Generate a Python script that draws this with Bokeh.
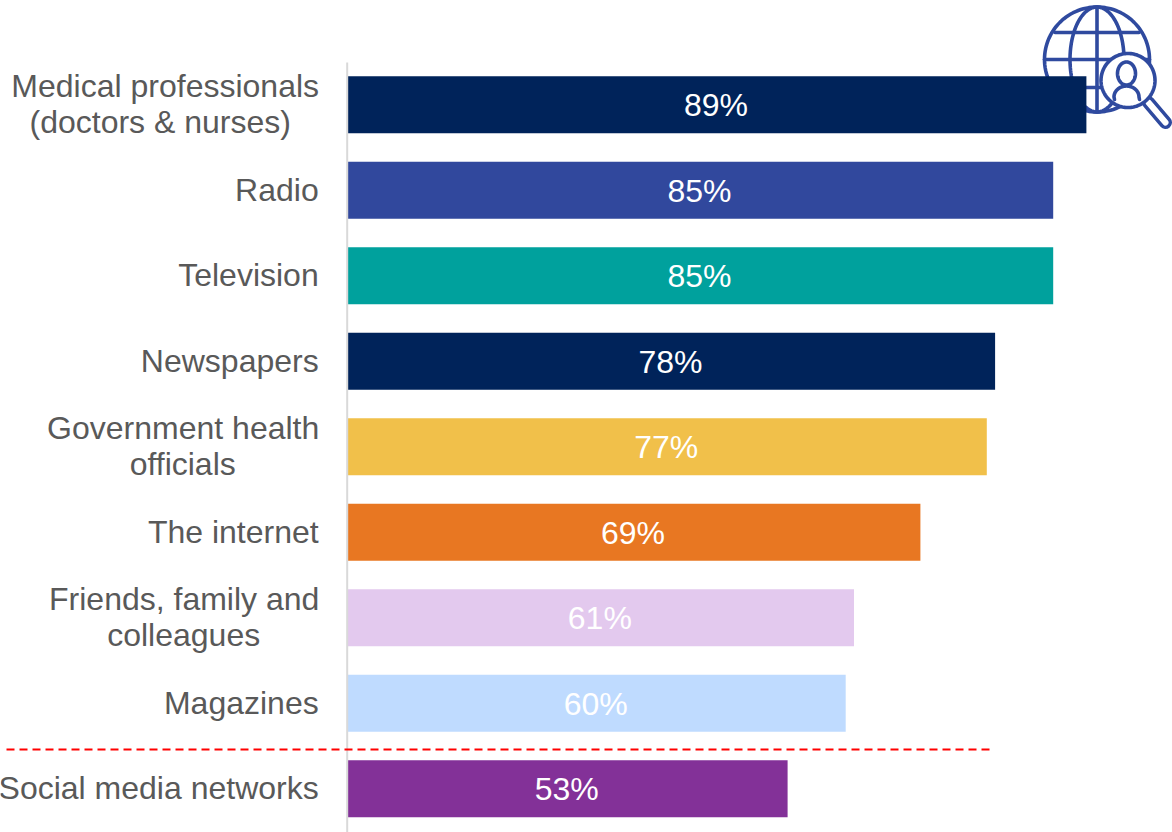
import numpy as np
from bokeh.core.properties import value
from bokeh.embed import file_html
from bokeh.models import ColumnDataSource, Range1d
from bokeh.plotting import figure
from bokeh.resources import INLINE

categories = [
    "Medical professionals", "Radio", "Television", "Newspapers",
    "Government health", "The internet", "Friends, family and",
    "Magazines", "Social media networks",
]
second_lines = {0: "(doctors & nurses)", 4: "officials", 6: "colleagues"}
shares = [89, 85, 85, 78, 77, 69, 61, 60, 53]
bar_colors = ["#00235A", "#31489D", "#00A19D", "#00235A", "#F1C04A",
              "#E87722", "#E3C9EE", "#BFDBFF", "#833198"]

W, H = 1172, 832
ZERO_PX, PX_PER_UNIT = 347.2, 8.3
ROW0_PX, ROW_STEP = 104.2, 85.5
ICON = "#2F4A9F"
FONT = value("Liberation Sans")


def dx(px):
    return (np.asarray(px, dtype=float) - ZERO_PX) / PX_PER_UNIT


def dy(px):
    return (np.asarray(px, dtype=float) - ROW0_PX) / ROW_STEP


p = figure(width=W, height=H, output_backend="svg", toolbar_location=None,
           x_range=Range1d(dx(0), dx(W)), y_range=Range1d(dy(H), dy(0)),
           min_border=0, outline_line_color=None, background_fill_color="white")
p.axis.visible = False
p.grid.visible = False


def stroke(xs, ys, color=ICON, width=3.6):
    p.line(dx(xs), dy(ys), line_color=color, line_width=width,
           line_cap="round", line_join="round")


# Globe with magnifier, sits behind the first bar
GX, GY, GR = 1096.5, 59.0, 52.5
t = np.linspace(0, 2 * np.pi, 121)
stroke(GX + GR * np.cos(t), GY + GR * np.sin(t))
stroke(GX + 27 * np.cos(t), GY + GR * np.sin(t))
stroke([GX, GX], [GY - GR, GY + GR])
stroke([GX - GR, GX + GR], [GY, GY])
stroke([GX - 42, GX + 42], [GY - 27, GY - 27])
stroke([GX - 42, GX + 42], [GY + 28, GY + 28])

# magnifier handle: thick stroke with a white core
stroke([1148, 1165], [102, 122], width=13)
stroke([1148, 1165], [102, 122], color="white", width=6)

# lens, opaque so that the globe lines stop at its rim
LX, LY, LR = 1127.5, 80.0, 27.0
p.patch(dx(LX + LR * np.cos(t)), dy(LY + LR * np.sin(t)),
        fill_color="white", line_color=ICON, line_width=3.6)

# person inside the lens
stroke(1126 + 9 * np.cos(t), 73 + 11.5 * np.sin(t))
a = np.linspace(np.pi, 2 * np.pi, 40)
stroke(np.r_[1114, 1126 + 12.5 * np.cos(a), 1139],
       np.r_[99, 97 + 11 * np.sin(a) - 0.5, 99])

rows = np.arange(len(shares))
source = ColumnDataSource(dict(
    y=rows, right=shares, color=bar_colors,
    mid=[s / 2 for s in shares], label=[f"{s}%" for s in shares],
))
bar_height = 57 / ROW_STEP
p.hbar(y="y", left=0, right="right", height=bar_height, fill_color="color",
       line_color=None, source=source)
p.text(x="mid", y="y", text="label", text_color="white", text_align="center",
       text_baseline="middle", text_font=FONT, text_font_size="32px",
       x_offset=-1, y_offset=0.5, source=source)

# vertical baseline
p.line(dx([ZERO_PX - 0.5, ZERO_PX - 0.5]), dy([62, H]),
       line_color="#D9D9D9", line_width=2)

# threshold separating social media from the other sources
p.line(dx([6, 991]), dy([749, 749]), line_color="#FF0000",
       line_width=2, line_dash="8 5")

# Category labels: two-line labels are centred on their longest line
single = [i for i in rows if i not in second_lines]
p.text(x=0, y=[int(i) for i in single], text=[categories[i] for i in single],
       text_color="#595959", text_align="right", text_baseline="middle",
       text_font=FONT, text_font_size="32px", x_offset=-29, y_offset=-0.5)

first_offset = {0: -182.5, 4: -164.5, 6: -163.5}
second_offset = {0: -187.5, 4: -165, 6: -164}
for i, second in second_lines.items():
    p.text(x=[0], y=[i], text=[categories[i]], text_color="#595959",
           text_align="center", text_baseline="middle", text_font=FONT,
           text_font_size="32px", x_offset=first_offset[i], y_offset=-18.5)
    p.text(x=[0], y=[i], text=[second], text_color="#595959",
           text_align="center", text_baseline="middle", text_font=FONT,
           text_font_size="32px", x_offset=second_offset[i], y_offset=17.5)

open("out.html", "w").write(file_html(p, INLINE))
